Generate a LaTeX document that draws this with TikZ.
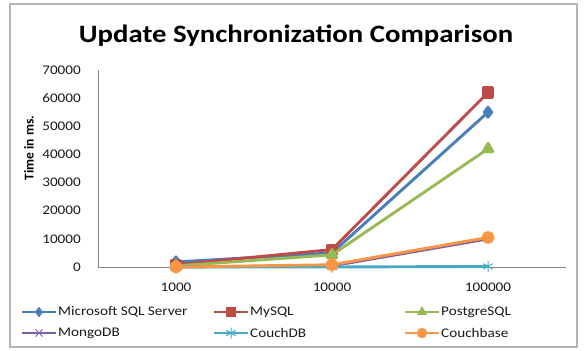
\documentclass[tikz,border=0pt]{standalone}
\usepackage{fontspec}
\setmainfont{Carlito}[FakeStretch=1.15]
\newfontfamily\plainfam{Carlito}
\usetikzlibrary{plotmarks}
\definecolor{cms}{HTML}{4A7EBB}
\definecolor{cmy}{HTML}{BE4B48}
\definecolor{cpg}{HTML}{98B954}
\definecolor{cmo}{HTML}{7D60A0}
\definecolor{ccd}{HTML}{46AAC5}
\definecolor{ccb}{HTML}{F79646}
\definecolor{frame}{HTML}{B4B4B4}
\definecolor{axis}{HTML}{868686}
\definecolor{txt}{HTML}{1A1A1A}
\begin{document}
\begin{tikzpicture}[x=1pt,y=-1pt,
  ticklbl/.style={font=\fontsize{13.2}{15}\selectfont, text=txt, inner sep=0pt},
  leglbl/.style={font=\fontsize{13.2}{15}\selectfont, text=txt, anchor=west, inner sep=0pt},
  series/.style={line width=2.9pt, line join=round},
  mms/.style={mark=diamond*, mark size=5pt, mark options={solid}},
  mmy/.style={mark=square*, mark size=4.6pt},
  mpg/.style={mark=triangle*, mark size=5.5pt},
  mmo/.style={mark=x, mark size=5pt, mark options={line width=1pt}},
  mcd/.style={mark=asterisk, mark size=5.5pt, mark options={line width=1pt}},
  mcb/.style={mark=*, mark size=5pt}]
\useasboundingbox (0,0) rectangle (585,350);
\draw[frame, line width=1.6pt] (10,4) rectangle (577,347);
\node[font=\bfseries\fontsize{25}{28}\selectfont, text=black] (title) at (296,36) {Update Synchronization Comparison};
\node[font=\plainfam\bfseries\fontsize{13.5}{15}\selectfont, rotate=90, text=black] (ylabel) at (29,148) {Time in ms.};
% axes
\coordinate (o) at (98,267);
\coordinate (ytop) at (98,70);
\coordinate (xend) at (566,267);
\draw[axis, line width=0.8pt] (ytop) -- (o) -- (xend);
% y tick labels
\foreach \v [count=\i from 0] in {0,10000,20000,30000,40000,50000,60000,70000}{
  \node[ticklbl, anchor=east] (yt\i) at (81,{267-28.14*\i}) {\v};
}
% x labels
\node[ticklbl] (x1) at (176,287) {1000};
\node[ticklbl] (x2) at (332,287) {10000};
\node[ticklbl] (x3) at (488,287) {100000};
% data
\begin{scope}[shift={(0,267)}, y=2.814pt]
  \coordinate (ms1) at (176,1.8); \coordinate (ms2) at (332,5.0); \coordinate (ms3) at (488,55);
  \coordinate (my1) at (176,0.8); \coordinate (my2) at (332,6.2); \coordinate (my3) at (488,62);
  \coordinate (pg1) at (176,0.4); \coordinate (pg2) at (332,4.3); \coordinate (pg3) at (488,42);
  \coordinate (mo1) at (176,0);   \coordinate (mo2) at (332,0.4); \coordinate (mo3) at (488,10);
  \coordinate (cd1) at (176,0);   \coordinate (cd2) at (332,0);   \coordinate (cd3) at (488,0.2);
  \coordinate (cb1) at (176,0);   \coordinate (cb2) at (332,0.8); \coordinate (cb3) at (488,10.5);
\end{scope}
\draw[series, cms, mms] plot coordinates {(ms1) (ms2) (ms3)};
\draw[series, cmy, mmy] plot coordinates {(my1) (my2) (my3)};
\draw[series, cpg, mpg] plot coordinates {(pg1) (pg2) (pg3)};
\draw[series, cmo, mmo] plot coordinates {(mo1) (mo2) (mo3)};
\draw[series, ccd, mcd] plot coordinates {(cd1) (cd2) (cd3)};
\draw[series, ccb, mcb] plot coordinates {(cb1) (cb2) (cb3)};
% legend
\foreach \col/\mk/\x/\y/\lab/\n in {cms/mms/22/312/Microsoft SQL Server/a, cmy/mmy/214/312/MySQL/b, cpg/mpg/405/312/PostgreSQL/c, cmo/mmo/22/333/MongoDB/d, ccd/mcd/214/333/CouchDB/e, ccb/mcb/405/333/Couchbase/f}{
  \coordinate (la\n) at (\x,\y);
  \coordinate (lb\n) at (\x+34,\y);
  \draw[series, \col] (la\n) -- (lb\n);
  \path[\col, \mk] plot coordinates {(\x+17,\y)};
  \node[leglbl] (lt\n) at (\x+36,\y) {\lab};
}
\end{tikzpicture}
\end{document}
